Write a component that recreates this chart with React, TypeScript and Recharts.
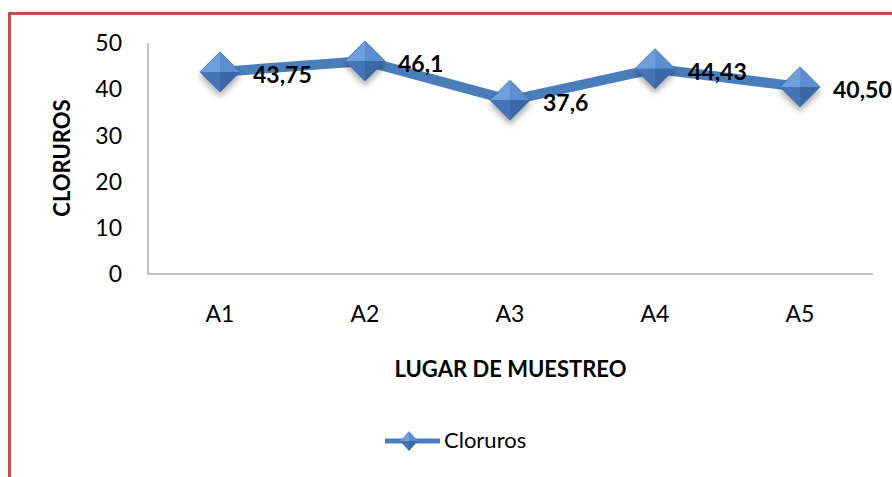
import React from 'react';
import { LineChart, Line, XAxis, YAxis, Legend, LabelList } from 'recharts';

const categories = ['A1', 'A2', 'A3', 'A4', 'A5'];
const cloruros = [43.75, 46.1, 37.6, 44.43, 40.5];
const valueLabels = ['43,75', '46,1', '37,6', '44,43', '40,50'];
const yTicks = [0, 10, 20, 30, 40, 50];
const seriesName = 'Cloruros';
const xTitle = 'LUGAR DE MUESTREO';
const yTitle = 'CLORUROS';

const data = categories.map((c, i) => ({ name: c, value: cloruros[i], label: valueLabels[i] }));

const FONT = 'Lato, "Open Sans", sans-serif';
const BLUE = '#4A7EBB';
const AXIS = '#868686';
const FRAME = '#C0504D';

const Diamond = ({ cx, cy, r, shadow = true }: any) => (
  <g filter={shadow ? 'url(#dshadow)' : undefined}>
    <polygon points={`${cx},${cy - r} ${cx - r},${cy} ${cx},${cy}`} fill="#6E9EDB" />
    <polygon points={`${cx},${cy - r} ${cx + r},${cy} ${cx},${cy}`} fill="#5C8ED1" />
    <polygon points={`${cx - r},${cy} ${cx},${cy + r} ${cx},${cy}`} fill="#4475B7" />
    <polygon points={`${cx + r},${cy} ${cx},${cy + r} ${cx},${cy}`} fill="#3A68A6" />
    <polygon
      points={`${cx},${cy - r} ${cx + r},${cy} ${cx},${cy + r} ${cx - r},${cy}`}
      fill="none"
      stroke="#3E6DAA"
      strokeWidth={0.8}
    />
  </g>
);

const renderDot = (props: any) => {
  const { cx, cy, index } = props;
  if (cx == null || cy == null) return <g key={`d${index}`} />;
  return <Diamond key={`d${index}`} cx={cx} cy={cy} r={20} />;
};

const renderValueLabel = (p: any) => {
  const x = p.x ?? p.viewBox?.x;
  const y = p.y ?? p.viewBox?.y;
  return (
    <text
      x={x + 33}
      y={y + 2}
      textAnchor="start"
      dominantBaseline="central"
      fontFamily={FONT}
      fontWeight="bold"
      fontSize={23}
      fill="#000"
    >
      {p.value}
    </text>
  );
};

const XTitle = (p: any) => {
  const vb = p.viewBox || {};
  return (
    <text
      x={vb.x + vb.width / 2}
      y={vb.y + 103}
      textAnchor="middle"
      fontFamily={FONT}
      fontWeight="bold"
      fontSize={22}
      fill="#000"
    >
      {xTitle}
    </text>
  );
};

const YTitle = (p: any) => {
  const vb = p.viewBox || {};
  const x = vb.x - 18;
  const y = 158;
  return (
    <text
      x={x}
      y={y}
      transform={`rotate(-90, ${x}, ${y})`}
      textAnchor="middle"
      fontFamily={FONT}
      fontWeight="bold"
      fontSize={22}
      fill="#000"
    >
      {yTitle}
    </text>
  );
};

const LegendContent = () => (
  <svg width={170} height={30} style={{ overflow: 'visible' }}>
    <line x1={5} y1={15} x2={60} y2={15} stroke={BLUE} strokeWidth={5} />
    <g>
      <polygon points="29,5 20,15 29,15" fill="#6E9EDB" />
      <polygon points="29,5 38,15 29,15" fill="#5C8ED1" />
      <polygon points="20,15 29,25 29,15" fill="#4475B7" />
      <polygon points="38,15 29,25 29,15" fill="#3A68A6" />
    </g>
    <text x={64} y={22} fontFamily={FONT} fontSize={22} fill="#000">
      {seriesName}
    </text>
  </svg>
);

export default function App() {
  return (
    <div
      style={{
        position: 'absolute',
        left: 0,
        top: 0,
        width: 892,
        height: 477,
        overflow: 'hidden',
        background: '#fff',
      }}
    >
      <div
        style={{
          position: 'absolute',
          left: 8,
          top: 12,
          width: 1000,
          height: 700,
          borderTop: `3px solid ${FRAME}`,
          borderLeft: `3px solid ${FRAME}`,
        }}
      />
      <svg width={0} height={0} style={{ position: 'absolute' }}>
        <defs>
          <filter id="dshadow" x="-50%" y="-50%" width="200%" height="220%">
            <feDropShadow dx={0} dy={4} stdDeviation={3} floodColor="#000" floodOpacity={0.35} />
          </filter>
        </defs>
      </svg>
      <div style={{ position: 'absolute', left: 0, top: 0 }}>
        <LineChart
          width={892}
          height={477}
          data={data}
          margin={{ top: 43, right: 19, bottom: 173, left: 88 }}
        >
          <XAxis
            dataKey="name"
            height={30}
            padding={{ left: 72, right: 73 }}
            axisLine={{ stroke: AXIS, strokeWidth: 1 }}
            tickLine={false}
            tickSize={0}
            tickMargin={32}
            tick={{ fontFamily: FONT, fontSize: 23, fill: '#000' }}
            label={{ content: XTitle } as any}
          />
          <YAxis
            width={60}
            domain={[0, 50]}
            ticks={yTicks}
            axisLine={{ stroke: AXIS, strokeWidth: 1 }}
            tickLine={false}
            tickSize={0}
            tickMargin={26}
            tick={{ fontFamily: FONT, fontSize: 23, fill: '#000' }}
            label={{ content: YTitle } as any}
          />
          <Legend
            verticalAlign="middle"
            align="center"
            layout="horizontal"
            wrapperStyle={{ top: 426, left: 380, width: 170, height: 30 }}
            content={LegendContent as any}
          />
          <Line
            type="linear"
            dataKey="value"
            name={seriesName}
            stroke={BLUE}
            strokeWidth={10}
            dot={renderDot}
            activeDot={false}
            isAnimationActive={false}
          >
            <LabelList dataKey="label" content={renderValueLabel} />
          </Line>
        </LineChart>
      </div>
    </div>
  );
}
